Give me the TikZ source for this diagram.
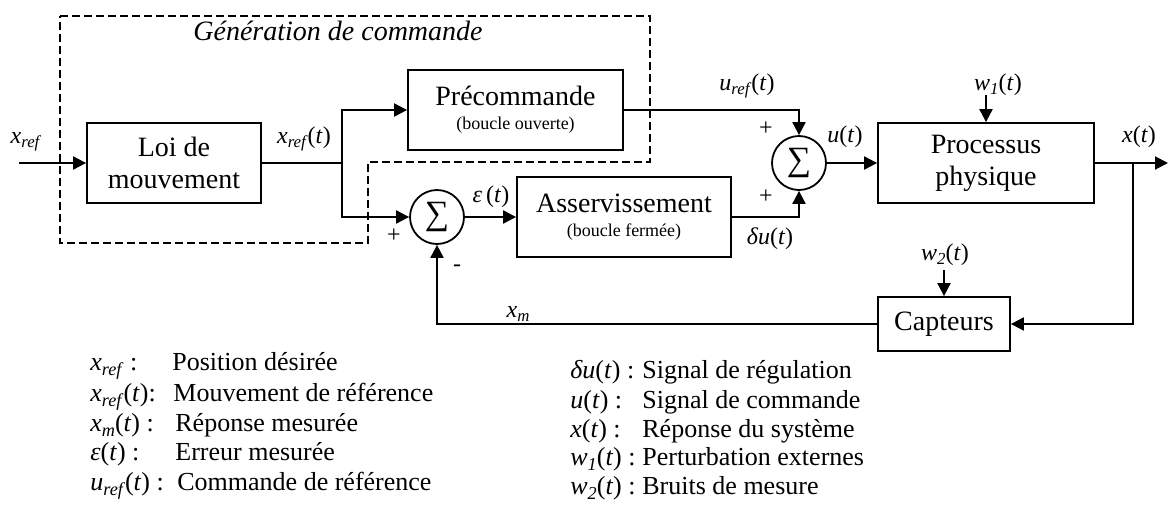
\documentclass[tikz,border=0pt]{standalone}
\usepackage{fontspec}
\setmainfont{Liberation Serif}
\usetikzlibrary{calc, positioning, arrows.meta}

\newcommand{\vsub}[2]{\textit{#1}\raisebox{-0.45ex}{\scalebox{0.7}{\textit{#2}}}}
\newcommand{\tpar}{(\textit{t})}

\begin{document}
\begin{tikzpicture}[x=0.5pt, y=-0.5pt,
    block/.style={draw=black, line width=0.9pt, rectangle, inner sep=0pt, align=center, font=\fontsize{14}{16}\selectfont},
    sumnode/.style={draw=black, line width=0.9pt, circle, minimum size=27pt, inner sep=0pt, font=\fontsize{17}{17}\selectfont},
    lbl/.style={inner sep=0pt, anchor=base, font=\fontsize{12}{14}\selectfont},
    sign/.style={inner sep=0pt, font=\fontsize{12}{14}\selectfont},
    legend/.style={inner sep=0pt, anchor=base west, font=\fontsize{13}{15}\selectfont},
    wire/.style={line width=1pt},
    sig/.style={line width=1pt, -{Triangle[length=6.5pt, width=6.5pt]}},
    zone/.style={line width=0.7pt, dash pattern=on 4pt off 2pt}]
    \useasboundingbox (0,0) rectangle (1168,520);

    % blocks
    \node (loi) [block, minimum width=87pt, minimum height=40pt] at (174,163) {Loi de\\mouvement};
    \node (precmd) [block, minimum width=107.5pt, minimum height=40pt] at (515.5,110) {Précommande\\[-4pt]{\fontsize{9}{10}\selectfont(boucle ouverte)}};
    \node (asserv) [block, minimum width=107pt, minimum height=40pt] at (624,217) {Asservissement\\[-4pt]{\fontsize{9}{10}\selectfont(boucle fermée)}};
    \node (proc) [block, minimum width=108pt, minimum height=40pt] at (986,163) {Processus\\physique};
    \node (capt) [block, minimum width=66pt, minimum height=27pt] at (944,324) {Capteurs};
    \node (sum1) [sumnode] at (437,217) {∑};
    \node (sum2) [sumnode] at (799,163) {∑};

    % free ends and branch points
    \coordinate (xin) at (19,163);
    \coordinate (br1) at (342,163);
    \coordinate (br2) at (1133,163);
    \coordinate (xout) at (1168,163);
    \coordinate (w1in) at (986,95);
    \coordinate (w2in) at (944,270);

    % command generation zone
    \draw[zone] (60,16) -- (650,16) -- (650,162) -- (368,162) -- (368,243) -- (60,243) -- cycle;
    \node (zonetitle) [inner sep=0pt, anchor=base, font=\fontsize{14}{16}\selectfont\itshape] at (338,40) {Génération de commande};

    % connectors
    \draw[sig] (xin) -- (loi.west);
    \draw[wire, line width=0.6pt] (loi.east) -- (br1);
    \draw[sig] (br1) |- (precmd.west);
    \draw[sig] (br1) |- (sum1.west);
    \draw[sig] (sum1.east) -- (asserv.west);
    \draw[sig] (precmd.east) -| (sum2.north);
    \draw[sig] (asserv.east) -| (sum2.south);
    \draw[sig] (sum2.east) -- (proc.west);
    \draw[sig] (w1in) -- (proc.north);
    \draw[sig] (proc.east) -- (xout);
    \draw[sig] (br2) |- (capt.east);
    \draw[sig] (w2in) -- (capt.north);
    \draw[sig] (capt.west) -| (sum1.south);

    % signal labels
    \node (lxref) [lbl] at (26,143) {\vsub{x}{ref}};
    \node (lxreft) [lbl] at (304,143) {\vsub{x}{ref}\tpar};
    \node (lureft) [lbl] at (747,90) {\vsub{u}{ref}\tpar};
    \node (leps) [lbl] at (491,202) {\textit{ε}\,\tpar};
    \node (ldu) [lbl] at (770,244) {\textit{δu}\tpar};
    \node (lu) [lbl] at (845,142) {\textit{u}\tpar};
    \node (lw1) [lbl] at (998,90) {\vsub{w}{1}\tpar};
    \node (lx) [lbl] at (1139,142) {\textit{x}\tpar};
    \node (lw2) [lbl] at (945,260) {\vsub{w}{2}\tpar};
    \node (lxm) [lbl] at (518,317) {\vsub{x}{m}};

    % signs
    \node (s1p) [sign] at (394,236) {+};
    \node (s1m) [sign] at (457,268) {-};
    \node (s2p) [sign] at (766,129) {+};
    \node (s2q) [sign] at (766,197) {+};

    % legend
    \foreach \n/\yy/\dx/\sym/\desc in {
        1/370/172/{\vsub{x}{ref} :}/{Position désirée},
        2/401/173/{\vsub{x}{ref}\tpar:}/{Mouvement de référence},
        3/431/175/{\vsub{x}{m}\tpar{} :}/{Réponse mesurée},
        4/460/175/{\textit{ε}\tpar{} :}/{Erreur mesurée},
        5/490/177/{\vsub{u}{ref}\tpar{} :}/{Commande de référence}}
    {
        \node (legL\n) [legend] at (90,\yy) {\sym};
        \node (descL\n) [legend] at (\dx,\yy) {\desc};
    }
    \foreach \n/\yy/\sym/\desc in {
        1/378/{\textit{δu}\tpar{} :}/{Signal de régulation},
        2/408/{\textit{u}\tpar{} :}/{Signal de commande},
        3/437/{\textit{x}\tpar{} :}/{Réponse du système},
        4/465/{\vsub{w}{1}\tpar{} :}/{Perturbation externes},
        5/494/{\vsub{w}{2}\tpar{} :}/{Bruits de mesure}}
    {
        \node (legR\n) [legend] at (570,\yy) {\sym};
        \node (descR\n) [legend] at (642,\yy) {\desc};
    }
\end{tikzpicture}
\end{document}
